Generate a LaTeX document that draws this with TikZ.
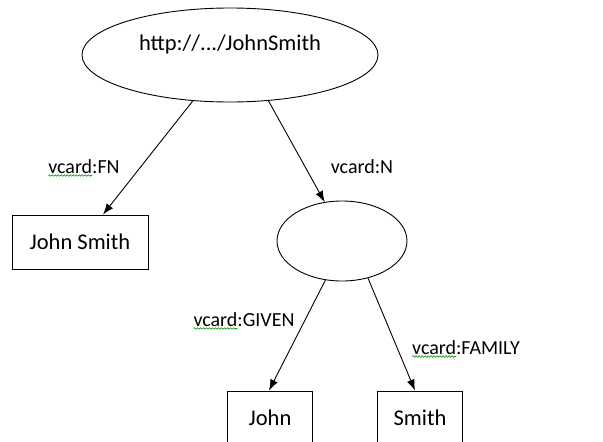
\documentclass[tikz,border=0pt]{standalone}
\usepackage{fontspec}
\setmainfont{Carlito}
\usetikzlibrary{shapes.geometric,arrows.meta,decorations.pathmorphing}
\tikzset{
  resource/.style={draw, ellipse, line width=0.9pt, inner sep=0pt, font=\fontsize{22.5}{27}\selectfont},
  literal/.style={draw, rectangle, line width=0.9pt, inner sep=0pt, minimum height=54pt, font=\fontsize{22.5}{27}\selectfont},
  edgelabel/.style={anchor=base, inner sep=0pt, font=\fontsize{20}{24}\selectfont},
  link/.style={line width=0.9pt, -{Latex[length=11pt,width=8pt]}},
  spellline/.style={draw=green!55!black, line width=0.6pt, decorate, decoration={snake,amplitude=0.8pt,segment length=3pt}}
}
% green wavy spell-check mark under a word
\newcommand{\spellmark}[1]{\tikz[baseline=(w.base)]{\node[inner sep=0pt,outer sep=0pt,anchor=base] (w) {#1};
  \draw[overlay,spellline] ([yshift=-2.5pt]w.base west) -- ([yshift=-2.5pt]w.base east);}}
\begin{document}
\begin{tikzpicture}[x=1pt,y=-1pt]
\useasboundingbox (0,0) rectangle (603,442);
\clip (0,0) rectangle (603,442);
% nodes
\node [resource, minimum width=296pt, minimum height=94pt, text depth=24pt] (subj) at (230,55) {http://.../JohnSmith};
\node [literal, minimum width=136pt] (fullname) at (80,242) {John Smith};
\node [resource, minimum width=130pt, minimum height=80pt] (name) at (342,241) {};
\node [literal, minimum width=85pt] (given) at (270,418) {John};
\node [literal, minimum width=85pt] (family) at (420,418) {Smith};
% edges
\draw [link] (subj.231) -- ([xshift=23pt]fullname.north);
\draw [link] (subj.310) -- (name.114);
\draw [link] (name.247) -- ([xshift=-1pt]given.north);
\draw [link] (name.305) -- ([xshift=-5pt]family.north);
% edge labels
\node [edgelabel] (lblfn) at (84,173) {\spellmark{vcard}:FN};
\node [edgelabel] (lbln) at (362,173) {vcard:N};
\node [edgelabel] (lblgiven) at (244,326) {\spellmark{vcard}:GIVEN};
\node [edgelabel] (lblfamily) at (466,354) {\spellmark{vcard}:FAMILY};
\end{tikzpicture}
\end{document}
